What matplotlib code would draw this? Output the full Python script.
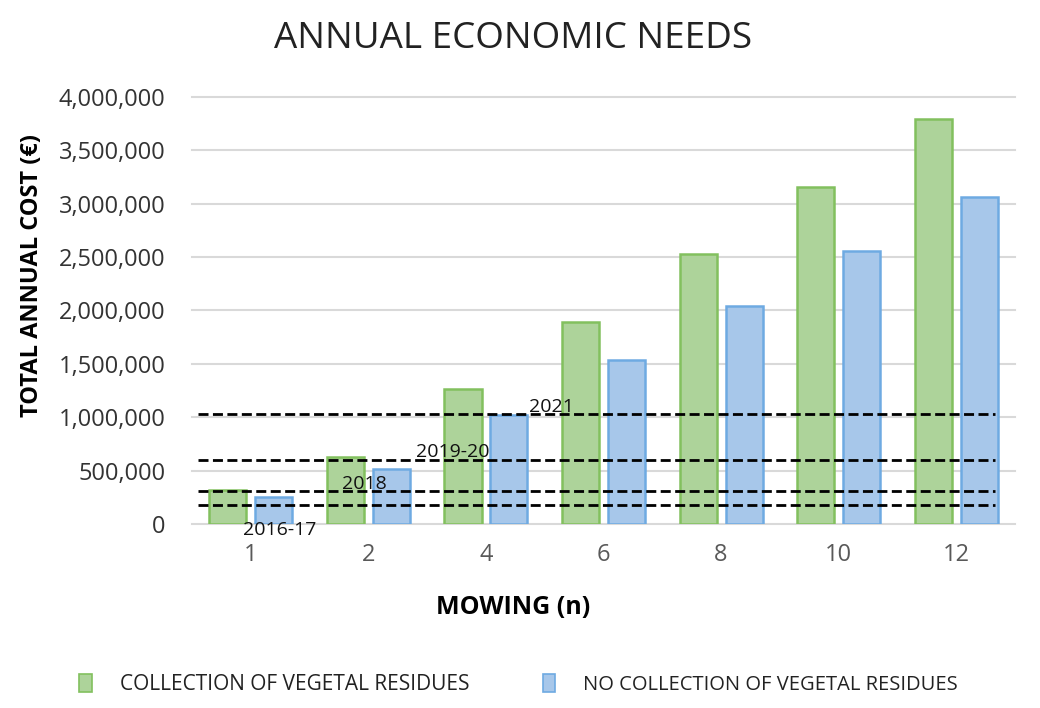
import matplotlib.pyplot as plt
import numpy as np
from matplotlib.ticker import FuncFormatter

# mowing frequency categories
mowing = ["1", "2", "4", "6", "8", "10", "12"]

# total annual cost (EUR)
collection = [315000, 630000, 1265000, 1890000, 2525000, 3155000, 3790000]
no_collection = [252000, 512000, 1020000, 1535000, 2045000, 2560000, 3065000]

# budget reference lines per year
budget_years = ["2016-17", "2018", "2019-20", "2021"]
budget_values = [175000, 305000, 600000, 1030000]

plt.rcParams['font.family'] = ['Open Sans', 'DejaVu Sans']

fig = plt.figure(figsize=(10.4, 7.08), dpi=100)
ax = fig.add_axes([0.1846, 0.260, 0.7914, 0.603])

x = np.arange(len(mowing))
w = 0.315
ax.bar(x - 0.195, collection, w, color="#add39a", edgecolor="#82c05e", linewidth=1.8, zorder=2)
ax.bar(x + 0.195, no_collection, w, color="#a7c7ea", edgecolor="#6eaae2", linewidth=1.8, zorder=2)

# dashed budget lines
for v in budget_values:
    ax.plot([-0.45, 6.33], [v, v], color="black", linestyle=(0, (3.6, 1.6)), linewidth=2, zorder=3)

# year labels next to the lines
lbl_pos = [(-0.07, -55000), (0.78, 375000), (1.405, 675000), (2.37, 1096000)]
for name, (lx, ly) in zip(budget_years, lbl_pos):
    ax.text(lx, ly, name, fontsize=14, va="center", ha="left", color="#111111", zorder=4, clip_on=False)

ax.set_xlim(-0.5, 6.5)
ax.set_ylim(0, 4000000)
ax.set_yticks(np.arange(0, 4000001, 500000))
ax.yaxis.set_major_formatter(FuncFormatter(lambda v, p: "{:,.0f}".format(v)))
ax.set_xticks(x)
ax.set_xticklabels(mowing)

ax.grid(axis="y", color="#d9d9d9", linewidth=1.5, zorder=0, clip_on=False)
ax.set_axisbelow(True)
for s in ax.spines.values():
    s.set_visible(False)
ax.tick_params(axis="both", length=0, labelsize=17, colors="#333333")
ax.tick_params(axis="x", pad=14, colors="#595959")
ax.tick_params(axis="y", pad=19)

ax.set_ylabel("TOTAL ANNUAL COST (€)", fontsize=17, fontweight="bold")
ax.yaxis.set_label_coords(-0.180, 0.583)
fig.text(0.493, 0.142, "MOWING (n)", fontsize=18, fontweight="bold", ha="center", va="center")

fig.text(0.493, 0.945, "ANNUAL ECONOMIC NEEDS", fontsize=26.5, ha="center", va="center", color="#222222")

# legend drawn manually to match the layout
fig.patches.append(plt.Rectangle((0.076, 0.022), 0.012, 0.026, transform=fig.transFigure,
                                 facecolor="#add39a", edgecolor="#82c05e", linewidth=1.2))
fig.text(0.115, 0.033, "COLLECTION OF VEGETAL RESIDUES", fontsize=15, va="center", color="#222222")
fig.patches.append(plt.Rectangle((0.522, 0.022), 0.012, 0.026, transform=fig.transFigure,
                                 facecolor="#a7c7ea", edgecolor="#6eaae2", linewidth=1.2))
fig.text(0.561, 0.033, "NO COLLECTION OF VEGETAL RESIDUES", fontsize=14.5, va="center", color="#222222")

fig.savefig("out.png", dpi=100)
